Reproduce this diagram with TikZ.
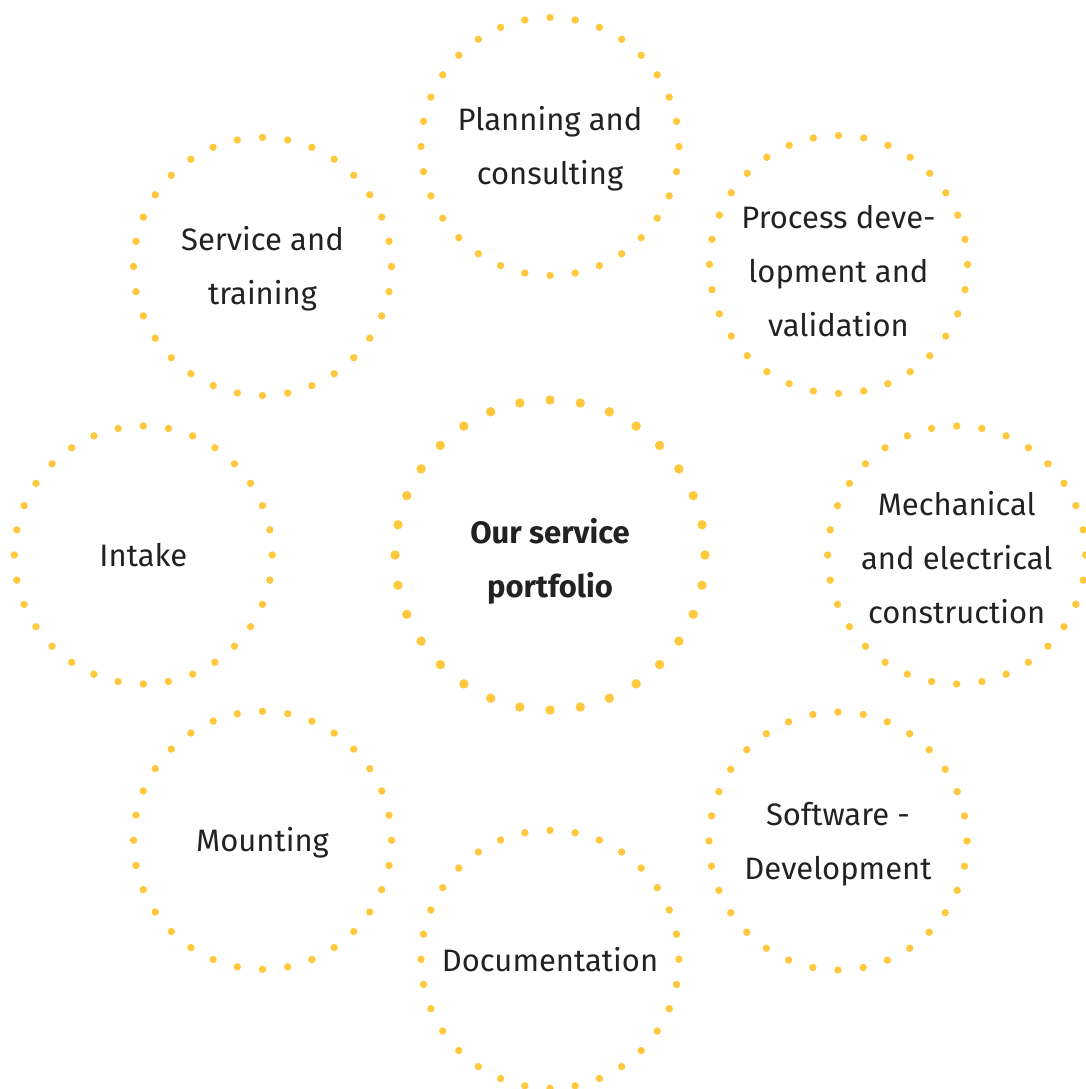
\documentclass[tikz,border=0pt]{standalone}
\usepackage{fontspec}
\setmainfont{Fira Sans}
\usetikzlibrary{calc}
\definecolor{dotyellow}{RGB}{255,200,61}
\definecolor{textgray}{RGB}{34,34,34}

\begin{document}
\begin{tikzpicture}[x=1pt, y=-1pt,
  topic/.style={align=center, text=textgray, inner sep=0pt, yshift=-2.5pt,
    font=\fontsize{31}{54}\selectfont}]
  \useasboundingbox (0,0) rectangle (1086,1089);
  \pgfmathsetmacro{\smallR}{129}
  \pgfmathsetmacro{\bigR}{155}
  \coordinate (O) at (550,555);
  \coordinate (plan) at (550,146.5);
  \coordinate (proc) at (838.5,264.5);
  \coordinate (mech) at (956.7,555);
  \coordinate (soft) at (838,841);
  \coordinate (doc) at (550,959.3);
  \coordinate (mount) at (262.5,840.3);
  \coordinate (intake) at (143.3,555);
  \coordinate (serv) at (262.5,266.5);
  % dotted rings
  \foreach \c in {plan, proc, mech, soft, doc, mount, intake, serv}
    \foreach \k in {0,...,31}
      \fill[dotyellow] ($(\c)+(\k*11.25:\smallR)$) circle (3.7pt);
  \foreach \k in {0,...,31}
    \fill[dotyellow] ($(O)+(\k*11.25:\bigR)$) circle (4.7pt);
  \node[topic, yshift=-4pt, font=\fontsize{31}{54}\selectfont\bfseries] (tO) at (O) {Our service\\portfolio};
  \node[topic] (tplan) at (plan) {Planning and\\consulting};
  \node[topic, yshift=-4pt] (tproc) at (proc) {Process deve-\\lopment and\\validation};
  \node[topic] (tmech) at (mech) {Mechanical\\and electrical\\construction};
  \node[topic, yshift=-1pt] (tsoft) at (soft) {Software -\\Development};
  \node[topic, yshift=2pt] (tdoc) at (doc) {Documentation};
  \node[topic] (tmount) at (mount) {Mounting};
  \node[topic, yshift=2pt] (tintake) at (intake) {Intake};
  \node[topic] (tserv) at (serv) {Service and\\training};
\end{tikzpicture}
\end{document}
